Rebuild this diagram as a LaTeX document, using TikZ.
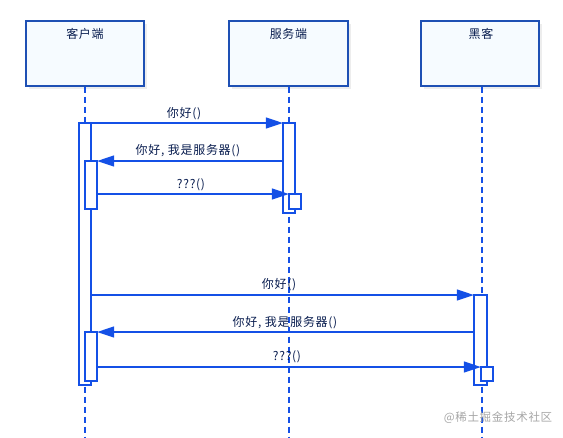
\documentclass[tikz,border=0pt]{standalone}
\usepackage{fontspec}
\newfontfamily\cjk[LetterSpace=6]{Noto Sans CJK SC}
\usetikzlibrary{arrows.meta}
\definecolor{ln}{RGB}{20,80,230}
\definecolor{bd}{RGB}{30,80,180}
\definecolor{tx}{RGB}{10,30,80}
\definecolor{bx}{RGB}{246,251,255}
\tikzset{
  actor/.style={draw=bd, line width=1.4pt, fill=bx, minimum width=118pt, minimum height=65pt, inner sep=0pt},
  lifeline/.style={draw=ln, line width=1.3pt, dash pattern=on 6pt off 4pt},
  bar/.style={draw=ln, line width=1.3pt, fill=white},
  msg/.style={draw=ln, line width=1.3pt, -{Triangle[length=17pt,width=11pt]}},
  lbl/.style={font=\cjk\fontsize{12}{14}\selectfont, text=tx, inner sep=0pt},
  shadow/.style={fill=black!7, draw=none}
}
\begin{document}
\begin{tikzpicture}[x=1pt,y=-1pt]
\useasboundingbox (0,0) rectangle (563,437);
% shadows
\fill[shadow] (29,24) rectangle (147,89);
\fill[shadow] (232,24) rectangle (351,89);
\fill[shadow] (424,24) rectangle (542,89);
% actors
\node[actor] (c) at (85,53.5) {};
\node[actor, minimum width=119pt] (s) at (288.5,53.5) {};
\node[actor] (h) at (480,53.5) {};
\node[lbl] (ct) at (85,34) {客户端};
\node[lbl] (st) at (288.5,34) {服务端};
\node[lbl] (ht) at (481,34) {黑客};
% lifelines
\coordinate (ce) at (85,437);
\coordinate (se) at (289,437);
\coordinate (he) at (482,437);
\draw[lifeline] (c.south -| ce) -- (ce);
\draw[lifeline] (s.south -| se) -- (se);
\draw[lifeline] (h.south -| he) -- (he);
% activation bars
\draw[bar] (79,123) rectangle (91,385);
\node[inner sep=0pt, minimum width=12pt, minimum height=262pt] (cb) at (85,254) {};
\draw[bar] (85,161) rectangle (97,209);
\node[inner sep=0pt, minimum width=12pt, minimum height=48pt] (cn1) at (91,185) {};
\draw[bar] (85,332) rectangle (97,381);
\node[inner sep=0pt, minimum width=12pt, minimum height=49pt] (cn2) at (91,356.5) {};
\draw[bar] (283,123) rectangle (295,213);
\node[inner sep=0pt, minimum width=12pt, minimum height=90pt] (sb) at (289,168) {};
\draw[bar] (289,194) rectangle (301,209);
\node[inner sep=0pt, minimum width=12pt, minimum height=15pt] (sn) at (295,201.5) {};
\draw[bar] (474,295) rectangle (487,385);
\node[inner sep=0pt, minimum width=13pt, minimum height=90pt] (hb) at (480.5,340) {};
\draw[bar] (481,367) rectangle (493,381);
\node[inner sep=0pt, minimum width=12pt, minimum height=14pt] (hn) at (487,374) {};
% messages
\coordinate (m1) at (0,123);
\coordinate (m2) at (0,161);
\coordinate (m3) at (0,194);
\coordinate (m4) at (0,295);
\coordinate (m5) at (0,332);
\coordinate (m6) at (0,367);
\draw[msg] (cb.east |- m1) -- (sb.west |- m1);
\draw[msg] (sb.west |- m2) -- (cn1.east |- m2);
\draw[msg] (cn1.east |- m3) -- (sn.west |- m3);
\draw[msg] (cb.east |- m4) -- (hb.west |- m4);
\draw[msg] (hb.west |- m5) -- (cn2.east |- m5);
\draw[msg] (cn2.east |- m6) -- (hn.west |- m6);
\node[lbl] (l1) at (184,114) {你好()};
\node[lbl] (l2) at (188,151) {你好, 我是服务器()};
\node[lbl] (l3) at (191,185) {???()};
\node[lbl] (l4) at (279,285) {你好()};
\node[lbl] (l5) at (285,323) {你好, 我是服务器()};
\node[lbl] (l6) at (287,357) {???()};
\node[font=\cjk\fontsize{11.5}{13}\selectfont, text=black!35, inner sep=0pt] (wm) at (498,418) {@稀土掘金技术社区};
\end{tikzpicture}
\end{document}
